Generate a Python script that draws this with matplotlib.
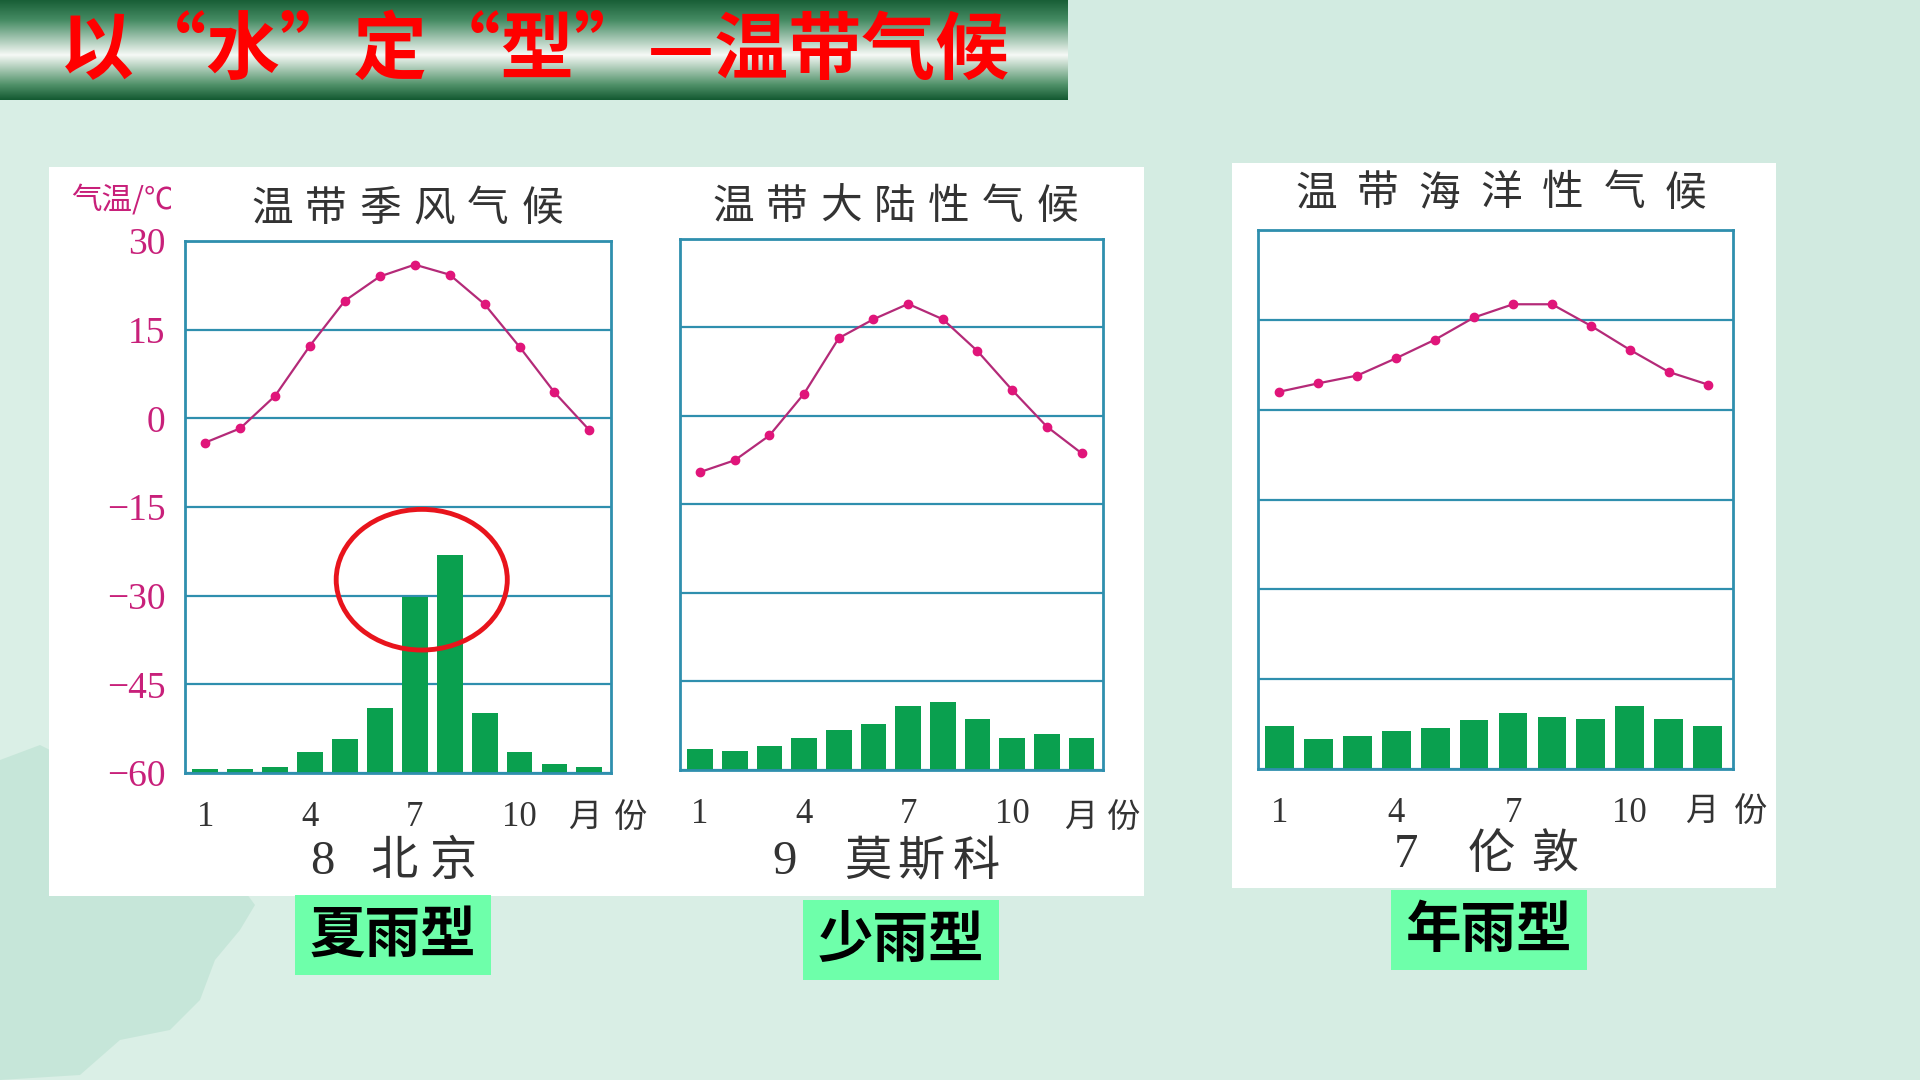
import matplotlib
matplotlib.use("Agg")
import matplotlib.pyplot as plt
from matplotlib.patches import Rectangle, Ellipse, Polygon
from matplotlib.transforms import Bbox
import numpy as np

plt.rcParams['font.family'] = ['Noto Sans CJK SC', 'DejaVu Sans']

# ---- data ----
months = np.arange(1, 13)
month_ticks = [1, 4, 7, 10]
temp_ticks = [30, 15, 0, -15, -30, -45, -60]

beijing_temp = [-4.1, -1.7, 3.8, 12.3, 19.9, 24.0, 26.0, 24.3, 19.3, 12.1, 4.4, -2.0]
beijing_rain = [4, 4, 6, 20, 32, 61, 165, 205, 56, 20, 8, 6]

moscow_temp = [-9.5, -7.5, -3.3, 3.8, 13.2, 16.4, 19.0, 16.4, 11.0, 4.4, -1.8, -6.3]
moscow_rain = [20, 18, 23, 30, 38, 43, 60, 64, 48, 30, 34, 30]

london_temp = [3.0, 4.4, 5.7, 8.6, 11.7, 15.4, 17.6, 17.6, 14.0, 10.0, 6.3, 4.2]
london_rain = [40, 28, 31, 35, 38, 45, 52, 48, 46, 58, 46, 40]

W, H = 1920, 1080
grid_c = '#2f8fae'
line_c = '#b42a78'
dot_c = '#e0157a'
bar_c = '#0aa04f'
tick_c = '#c8207a'
text_c = '#333333'
serif = 'Liberation Serif'

fig = plt.figure(figsize=(19.2, 10.8), dpi=100)


def box(l, t, r, b):
    return [l / W, 1 - b / H, (r - l) / W, (b - t) / H]


# background layer in pixel coordinates
bg = fig.add_axes([0, 0, 1, 1])
bg.set_xlim(0, W)
bg.set_ylim(H, 0)
bg.axis('off')

yy, xx = np.mgrid[0:1:108j, 0:1:192j]
base = np.array([218, 239, 230]) / 255
tint = np.array([204, 232, 221]) / 255
mix = np.clip(0.6 * xx + 0.3 * (1 - yy) - 0.2, 0, 1)[..., None]
img = base * (1 - mix) + tint * mix
bg.imshow(img, extent=(0, W, H, 0), aspect='auto', zorder=0)

blob = [(0, 760), (40, 745), (90, 770), (150, 790), (200, 830), (255, 905),
        (240, 930), (215, 960), (200, 1000), (170, 1030), (120, 1040),
        (80, 1075), (0, 1080)]
bg.add_patch(Polygon(blob, closed=True, fc='#c2e4d6', ec='none', alpha=0.8, zorder=1))

# title banner with a vertical gradient
stops = np.array([0.0, 0.2, 0.55, 0.85, 1.0])
cols = np.array([[25, 95, 55], [70, 140, 100], [246, 249, 246], [80, 145, 105], [20, 90, 50]]) / 255
t = np.linspace(0, 1, 100)
grad = np.stack([np.interp(t, stops, cols[:, k]) for k in range(3)], axis=1)
bg.imshow(np.repeat(grad[:, None, :], 2, axis=1), extent=(0, 1068, 100, 0),
          aspect='auto', zorder=2)
bg.text(535, 52, '以“水”定“型”—温带气候', color='#ff0000', fontsize=53,
        fontweight='bold', ha='center', va='center', zorder=3)

# white chart panels
bg.add_patch(Rectangle((49, 167), 1095, 729, fc='white', ec='none', zorder=2))
bg.add_patch(Rectangle((1232, 163), 544, 725, fc='white', ec='none', zorder=2))


def spaced(xs, y, chars, **kw):
    for x, ch in zip(xs, chars):
        bg.text(x, y, ch, ha='center', va='center', zorder=3, **kw)


def chart(rect, temps, rain, show_y):
    ax = fig.add_axes(box(*rect))
    ax.set_facecolor('none')
    ax.set_xlim(0.42, 12.62)
    ax.set_ylim(-60, 30)
    ax.set_yticks(temp_ticks)
    ax.yaxis.grid(True, color=grid_c, lw=1.6)
    for s in ax.spines.values():
        s.set_visible(False)
    if show_y:
        ax.set_yticklabels([str(v).replace('-', '\u2212') for v in temp_ticks],
                           fontfamily=serif, fontsize=27, color=tick_c)
    else:
        ax.set_yticklabels([])
    ax.tick_params(axis='y', length=0, pad=14)
    ax.set_xticks(month_ticks)
    ax.set_xticklabels([str(m) for m in month_ticks], fontfamily=serif,
                       fontsize=25, color=text_c)
    ax.tick_params(axis='x', length=0, pad=20)
    ax.plot(months, temps, color=line_c, lw=1.6, marker='o', ms=6,
            mfc=dot_c, mec=dot_c)

    axr = ax.twinx()
    axr.bar(months, rain, width=0.74, color=bar_c, zorder=2)
    axr.set_ylim(0, 500)
    axr.set_yticks([])
    for s in axr.spines.values():
        s.set_color(grid_c)
        s.set_linewidth(2)
    return ax, axr


# 1: temperate monsoon climate (Beijing)
ax1, ax1r = chart((185, 241, 611, 773), beijing_temp, beijing_rain, True)
ax1r.add_patch(Ellipse((7.2, -27.3), 4.9, 23.8, transform=ax1.transData,
                       fill=False, ec='#e8141c', lw=3.5, clip_on=False, zorder=5))
ax1r.set_ylim(0, 500)
unit = bg.text(71, 200, '气温/℃', color=tick_c, fontsize=22, ha='left',
               va='center', zorder=3, clip_on=True)
unit.set_clip_box(Bbox.from_extents(0, 0, 171, H))

spaced([407 + (i - 2.5) * 54 for i in range(6)], 209, '温带季风气候',
       fontsize=30, color=text_c)
spaced([585, 631], 817, '月份', fontsize=24, color=text_c)
bg.text(322, 862, '8', fontfamily=serif, fontsize=35, color=text_c,
        ha='center', va='center', zorder=3)
spaced([394, 453], 862, '北京', fontsize=34, color=text_c)

# 2: temperate continental climate (Moscow)
chart((680, 239, 1103, 770), moscow_temp, moscow_rain, False)
spaced([895 + (i - 3) * 54 for i in range(7)], 207, '温带大陆性气候',
       fontsize=30, color=text_c)
spaced([1081, 1124], 817, '月份', fontsize=24, color=text_c)
bg.text(785, 862, '9', fontfamily=serif, fontsize=35, color=text_c,
        ha='center', va='center', zorder=3)
spaced([868, 921, 976], 862, '莫斯科', fontsize=34, color=text_c)

# 3: temperate maritime climate (London)
ax3, _ = chart((1258, 230, 1733, 769), london_temp, london_rain, False)
ax3.set_xlim(0.45, 12.65)
spaced([1501 + (i - 3) * 61.6 for i in range(7)], 194, '温带海洋性气候',
       fontsize=30, color=text_c)
spaced([1702, 1751], 811, '月份', fontsize=24, color=text_c)
bg.text(1406, 855, '7', fontfamily=serif, fontsize=35, color=text_c,
        ha='center', va='center', zorder=3)
spaced([1491, 1555], 855, '伦敦', fontsize=34, color=text_c)

# rainfall-type labels
for (l, t_, r, b), label in [((295, 895, 491, 975), '夏雨型'),
                             ((803, 900, 999, 980), '少雨型'),
                             ((1391, 890, 1587, 970), '年雨型')]:
    bg.add_patch(Rectangle((l, t_), r - l, b - t_, fc='#6effaa', ec='none', zorder=2))
    bg.text((l + r) / 2, (t_ + b) / 2 + 1, label, fontsize=40, fontweight='bold',
            color='black', ha='center', va='center', zorder=3)

fig.savefig('out.png', dpi=100)
plt.close(fig)
